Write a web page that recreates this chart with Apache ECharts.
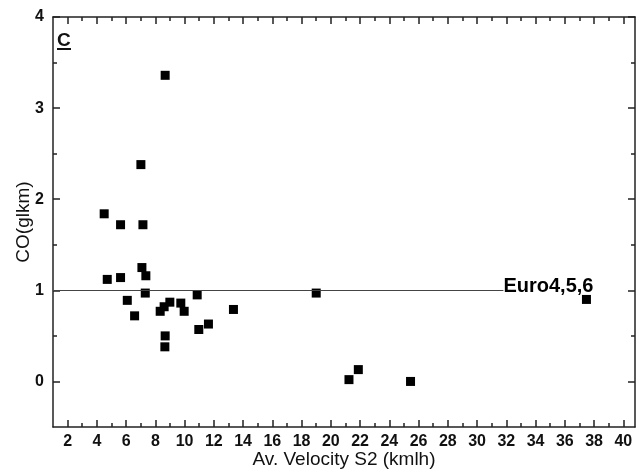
<!DOCTYPE html>
<html>
<head>
<meta charset="utf-8">
<script src="https://cdn.jsdelivr.net/npm/echarts@6/dist/echarts.min.js"></script>
<style>
html,body{margin:0;padding:0;background:#fff;}
#chart{width:637px;height:475px;}
</style>
</head>
<body>
<div id="chart"></div>
<script>
// Data
const velocity = [8.67, 7.01, 4.50, 5.62, 7.15, 7.08, 7.35, 4.71, 5.62, 7.31, 6.08, 6.58, 8.33, 8.60, 8.99, 9.74, 9.97, 10.86, 10.97, 11.63, 13.34, 8.67, 8.65, 19.0, 21.24, 21.88, 25.45, 37.48];
const co       = [3.36, 2.38, 1.84, 1.72, 1.72, 1.25, 1.16, 1.12, 1.14, 0.97, 0.89, 0.72, 0.77, 0.82, 0.87, 0.86, 0.77, 0.95, 0.57, 0.63, 0.79, 0.50, 0.38, 0.97, 0.02, 0.13, 0.00, 0.90];
const xMajorTicks = [2,4,6,8,10,12,14,16,18,20,22,24,26,28,30,32,34,36,38,40];
const xMinorTicks = [3,5,7,9,11,13,15,17,19,21,23,25,27,29,31,33,35,37,39];
const yMajorTicks = [0,1,2,3,4];
const yMinorTicks = [0.5,1.5,2.5,3.5];
const limitValue = 1;
const limitLabel = 'Euro4,5,6';
const limitLineEndX = 31.8;
const xRange = [1, 40.8];
const yRange = [-0.5, 4];

const FONT = '"Liberation Sans", Arial, sans-serif';
const AXIS_COLOR = '#222';

function xAxisDef(position, ticks, len, withLabels, showLine) {
  return {
    type: 'value', position: position, min: xRange[0], max: xRange[1],
    axisLine: { show: showLine, onZero: false, lineStyle: { color: AXIS_COLOR, width: 1.5 } },
    axisTick: { show: true, inside: true, length: len, customValues: ticks, lineStyle: { color: AXIS_COLOR, width: 1.5 } },
    axisLabel: withLabels ? { show: true, customValues: ticks, color: '#111', fontFamily: FONT, fontSize: 16, fontWeight: 'bold', margin: 7 } : { show: false },
    splitLine: { show: false },
    name: withLabels ? 'Av. Velocity S2 (kmlh)' : '',
    nameLocation: 'middle', nameGap: 23, nameMoveOverlap: false,
    nameTextStyle: { color: '#111', fontFamily: FONT, fontSize: 19 }
  };
}
function yAxisDef(position, ticks, len, withLabels, showLine) {
  return {
    type: 'value', position: position, min: yRange[0], max: yRange[1],
    axisLine: { show: showLine, onZero: false, lineStyle: { color: AXIS_COLOR, width: 1.5 } },
    axisTick: { show: true, inside: true, length: len, customValues: ticks, lineStyle: { color: AXIS_COLOR, width: 1.5 } },
    axisLabel: withLabels ? { show: true, customValues: ticks, color: '#111', fontFamily: FONT, fontSize: 16, fontWeight: 'bold', margin: 9 } : { show: false },
    splitLine: { show: false },
    name: withLabels ? 'CO(glkm)' : '',
    nameLocation: 'middle', nameGap: 20, nameMoveOverlap: false,
    nameTextStyle: { color: '#111', fontFamily: FONT, fontSize: 19 }
  };
}

const chart = echarts.init(document.getElementById('chart'), null, { renderer: 'canvas' });
chart.setOption({
  animation: false,
  backgroundColor: '#fff',
  grid: { left: 53, right: 2, top: 17, bottom: 48, containLabel: false, outerBoundsMode: 'none' },
  xAxis: [
    xAxisDef('bottom', xMajorTicks, 7, true, true),
    xAxisDef('bottom', xMinorTicks, 4, false, false),
    xAxisDef('top', xMajorTicks, 7, false, true),
    xAxisDef('top', xMinorTicks, 4, false, false)
  ],
  yAxis: [
    yAxisDef('left', yMajorTicks, 7, true, true),
    yAxisDef('left', yMinorTicks, 4, false, false),
    yAxisDef('right', yMajorTicks, 7, false, true),
    yAxisDef('right', yMinorTicks, 4, false, false)
  ],
  graphic: [
    { type: 'text', left: 57, top: 31, style: { text: 'C', fill: '#111', font: 'bold 19px ' + FONT } },
    { type: 'rect', left: 57, top: 48, shape: { width: 14, height: 2 }, style: { fill: '#111' } }
  ],
  series: [{
    type: 'scatter',
    xAxisIndex: 0, yAxisIndex: 0,
    symbol: 'rect', symbolSize: 9,
    itemStyle: { color: '#000', opacity: 1 },
    data: velocity.map((v, i) => [v, co[i]]),
    markLine: {
      silent: true,
      symbol: ['none', 'none'],
      lineStyle: { color: '#444', width: 1.2, type: 'solid' },
      label: { show: true, position: 'end', distance: 0, offset: [0, -4], formatter: limitLabel, color: '#000', fontFamily: FONT, fontSize: 20, fontWeight: 'bold' },
      data: [[{ coord: [xRange[0], limitValue] }, { coord: [limitLineEndX, limitValue] }]]
    }
  }]
});
</script>
</body>
</html>
